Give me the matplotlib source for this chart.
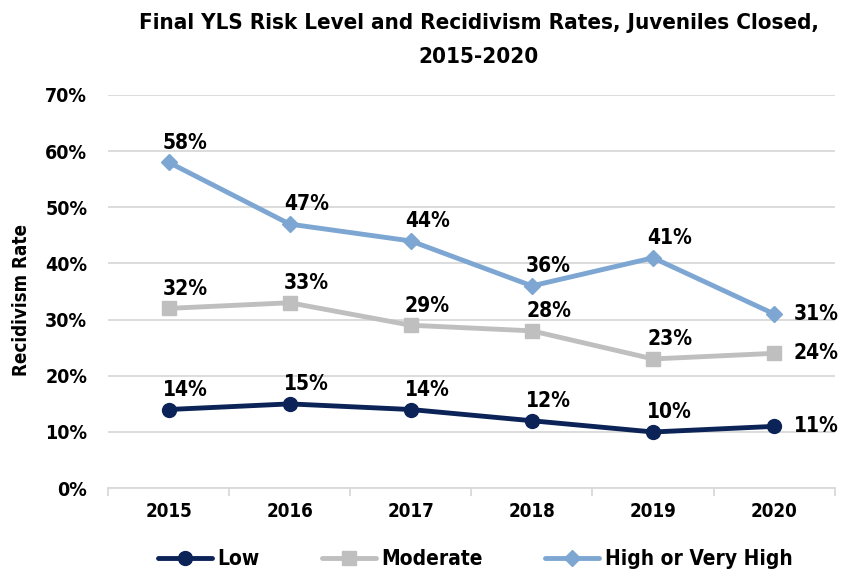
import matplotlib
matplotlib.use("Agg")
import matplotlib.pyplot as plt
from matplotlib.ticker import FuncFormatter, FixedLocator

years = ["2015", "2016", "2017", "2018", "2019", "2020"]
low = [14, 15, 14, 12, 10, 11]
moderate = [32, 33, 29, 28, 23, 24]
high = [58, 47, 44, 36, 41, 31]
series_names = ["Low", "Moderate", "High or Very High"]
title = "Final YLS Risk Level and Recidivism Rates, Juveniles Closed,\n2015-2020"
ylabel = "Recidivism Rate"

plt.rcParams["font.family"] = "DejaVu Sans"
plt.rcParams["font.stretch"] = "condensed"
plt.rcParams["font.weight"] = "bold"
plt.rcParams["axes.labelweight"] = "bold"
plt.rcParams["figure.titleweight"] = "bold"

fig = plt.figure(figsize=(8.44, 5.75), dpi=100)
ax = fig.add_axes([0.128, 0.151, 0.861, 0.684])

x = list(range(len(years)))
colors = ["#0C2357", "#BFBFBF", "#7DA7D2"]
markers = ["o", "s", "D"]
msizes = [10, 10, 8]
for vals, name, c, m, ms in zip([low, moderate, high], series_names, colors, markers, msizes):
    ax.plot(x, vals, color=c, lw=3.5, marker=m, markersize=ms, label=name,
            solid_capstyle="round", zorder=3)
    for i, v in enumerate(vals):
        if i == len(vals) - 1:
            ax.annotate(f"{v}%", (i, v), xytext=(14, 0), textcoords="offset points",
                        ha="left", va="center", fontsize=15, color="black")
        else:
            ax.annotate(f"{v}%", (i, v), xytext=(12, 7), textcoords="offset points",
                        ha="center", va="bottom", fontsize=15, color="black")

ax.set_xlim(-0.5, 5.5)
ax.set_ylim(0, 70)
ax.set_yticks(range(0, 71, 10))
ax.yaxis.set_major_formatter(FuncFormatter(lambda v, p: f"{int(v)}%"))
ax.grid(axis="y", color="#D9D9D9", lw=1.3, zorder=0)
ax.set_axisbelow(True)
ax.set_xticks(x)
ax.set_xticklabels(years)
ax.xaxis.set_minor_locator(FixedLocator([i - 0.5 for i in range(len(years) + 1)]))
ax.tick_params(axis="x", which="major", length=0, labelsize=13.5, pad=10)
ax.tick_params(axis="x", which="minor", length=6, color="#D9D9D9", width=1.3)
ax.tick_params(axis="y", length=0, labelsize=14, pad=15)
for s in ["top", "right", "left"]:
    ax.spines[s].set_visible(False)
ax.spines["bottom"].set_color("#D9D9D9")
ax.spines["bottom"].set_linewidth(1.3)

ax.set_ylabel(ylabel, fontsize=13.5)
ax.yaxis.set_label_coords(-0.106, 0.478)
fig.suptitle(title, fontsize=16, y=0.977, x=0.567, linespacing=1.85)

ax.legend(loc="upper center", bbox_to_anchor=(0.505, -0.108), ncol=3, frameon=False,
          fontsize=15, handlelength=2.6, columnspacing=3.0, handletextpad=0.25)

fig.savefig("out.png", dpi=100)
